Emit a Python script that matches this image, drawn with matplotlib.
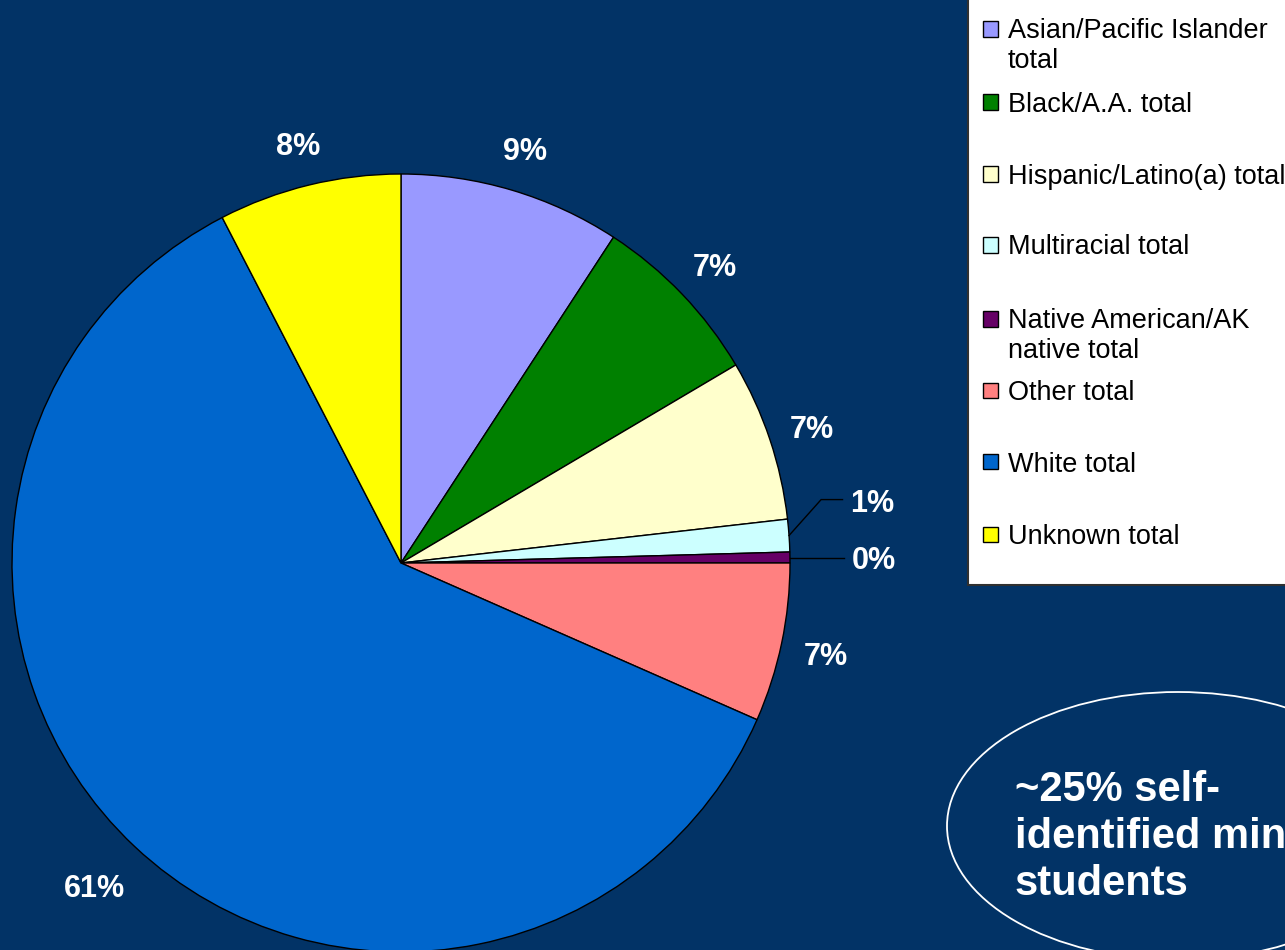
import matplotlib
matplotlib.use("Agg")
import matplotlib.pyplot as plt
from matplotlib.patches import Rectangle, Ellipse
import numpy as np

plt.rcParams['font.family'] = ['Liberation Sans', 'DejaVu Sans']

categories = ["Asian/Pacific Islander\ntotal", "Black/A.A. total", "Hispanic/Latino(a) total",
              "Multiracial total", "Native American/AK\nnative total", "Other total",
              "White total", "Unknown total"]
values = [9.2, 7.3, 6.7, 1.35, 0.45, 6.6, 60.8, 7.6]
colors = ["#9999FF", "#008000", "#FFFFCC", "#CCFFFF", "#660066", "#FF8080", "#0066CC", "#FFFF00"]
legend_y = [29, 102, 174, 245, 319, 390, 462, 534]  # pixel rows of legend markers

W, H = 1285, 950
BG = "#023366"
fig = plt.figure(figsize=(W / 100, H / 100), dpi=100, facecolor=BG)

cx, cy, R = 401, 563, 389
ax = fig.add_axes([(cx - R) / W, (H - cy - R) / H, 2 * R / W, 2 * R / H])
ax.set_facecolor("none")
ax.axis("off")

wedges, texts, autotexts = ax.pie(
    values, colors=colors, startangle=90, counterclock=False,
    autopct="%.0f%%", pctdistance=1.115, radius=1,
    wedgeprops=dict(edgecolor="black", linewidth=1.0),
    textprops=dict(color="white", fontsize=22, fontweight="bold"))
ax.set_xlim(-1, 1)
ax.set_ylim(-1, 1)
ax.set_aspect("equal")
for w in wedges:
    w.set_clip_on(False)

# nudge labels slightly down so the glyphs sit where the original's do
for t in autotexts:
    x, y = t.get_position()
    t.set_position((x, y - 0.013))

# large slice label sits a bit further out
w = wedges[6]
mid = np.deg2rad((w.theta1 + w.theta2) / 2)
autotexts[6].set_position((1.15 * np.cos(mid), 1.15 * np.sin(mid)))

# leader-line labels for the two thin slices
for idx, (elbow, tx) in {3: ((1.08, 0.163), 1.155), 4: (None, 1.16)}.items():
    w = wedges[idx]
    mid = np.deg2rad((w.theta1 + w.theta2) / 2)
    x0, y0 = np.cos(mid), np.sin(mid)
    t = autotexts[idx]
    if elbow is not None:
        ax.plot([x0, elbow[0], tx - 0.02], [y0, elbow[1], elbow[1]], color="black", lw=1, clip_on=False)
        t.set_position((tx, elbow[1] - 0.012))
    else:
        ax.plot([x0, tx - 0.02], [y0, y0], color="black", lw=1, clip_on=False)
        t.set_position((tx, y0 - 0.01))
    t.set_ha("left")
    t.set_va("center")

# legend box
fig.patches.append(Rectangle((968 / W, 1 - 585 / H), (W - 968 + 10) / W, 600 / H,
                             transform=fig.transFigure, facecolor="white",
                             edgecolor="#303030", linewidth=1.5, zorder=5))
for lab, col, py in zip(categories, colors, legend_y):
    fig.patches.append(Rectangle((983 / W, 1 - (py + 7.5) / H), 15 / W, 15 / H,
                                 transform=fig.transFigure, facecolor=col,
                                 edgecolor="black", linewidth=1, zorder=6))
    fig.text(1008 / W, 1 - (py - 10.5) / H, lab, fontsize=19.5, color="black",
             va="top", ha="left", zorder=7, linespacing=1.2)

# callout ellipse
fig.patches.append(Ellipse((1178 / W, 1 - 826 / H), 462 / W, 268 / H,
                           transform=fig.transFigure, facecolor="none",
                           edgecolor="white", linewidth=1.3, zorder=5))
fig.text(1015 / W, 1 - 770 / H, "~25% self-\nidentified minority\nstudents",
         fontsize=30, fontweight="bold", color="white", va="top", ha="left",
         linespacing=1.22, zorder=6)

fig.savefig("out.png", dpi=100, facecolor=BG)
